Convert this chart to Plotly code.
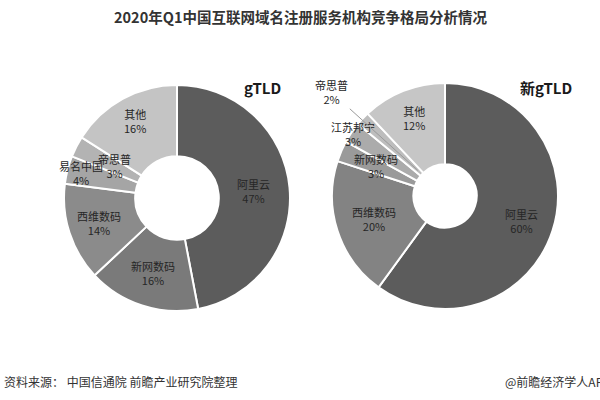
"""2020 Q1 domain registrar market share: gTLD vs new gTLD donuts."""

import math

import plotly.graph_objects as go

TITLE = "2020年Q1中国互联网域名注册服务机构竞争格局分析情况"
SOURCE = "资料来源： 中国信通院 前瞻产业研究院整理"
CREDIT = "@前瞻经济学人APP"

GTLD_NAMES = ["阿里云", "新网数码", "西维数码", "易名中国", "帝思普", "其他"]
GTLD_SHARE = [47, 16, 14, 4, 3, 16]

NEW_NAMES = ["阿里云", "西维数码", "新网数码", "江苏邦宁", "帝思普", "其他"]
NEW_SHARE = [60, 20, 3, 3, 2, 12]

W, H = 600, 400
FONT = "Noto Sans CJK SC, Noto Sans, sans-serif"
TEXT_COLOR = "#262626"

# pixel geometry of each donut: centre x, centre y, outer radius, hole ratio
LEFT = {"cx": 177, "cy": 198, "r": 113, "hole": 0.37}
RIGHT = {"cx": 445, "cy": 196, "r": 113, "hole": 0.28}

GTLD_COLORS = ["#5c5c5c", "#7a7a7a", "#8b8b8b", "#a5a5a5", "#b3b3b3", "#c4c4c4"]
NEW_COLORS = ["#5c5c5c", "#838383", "#9a9a9a", "#ababab", "#bdbdbd", "#c6c6c6"]

# radial distance of each label centre, as a fraction of the outer radius
GTLD_LABEL_R = [0.68, 0.70, 0.73, 0.88, 0.62, 0.78]
NEW_LABEL_R = [0.71, 0.66, 0.67, 0.98, 1.0, 0.74]


def px(x):
    return x / W


def py(y):
    return 1 - y / H


def domain(geo):
    return {
        "x": [px(geo["cx"] - geo["r"]), px(geo["cx"] + geo["r"])],
        "y": [py(geo["cy"] + geo["r"]), py(geo["cy"] - geo["r"])],
    }


def slice_point(geo, values, i, frac):
    """Paper coords of a point at the middle angle of slice i."""
    total = sum(values)
    mid = (sum(values[:i]) + values[i] / 2) / total * 2 * math.pi
    x = geo["cx"] + math.sin(mid) * frac * geo["r"]
    y = geo["cy"] - math.cos(mid) * frac * geo["r"]
    return px(x), py(y)


def donut(names, values, colors, geo):
    return go.Pie(
        labels=names,
        values=values,
        hole=geo["hole"],
        sort=False,
        direction="clockwise",
        rotation=0,
        textinfo="none",
        hoverinfo="label+percent",
        marker={"colors": colors, "line": {"color": "white", "width": 2}},
        domain=domain(geo),
        showlegend=False,
    )


def note(x, y, text, size, color=TEXT_COLOR, xanchor="center", **kw):
    return dict(
        x=x, y=y, xref="paper", yref="paper", text=text,
        xanchor=xanchor, yanchor="middle", showarrow=False,
        font={"size": size, "color": color, "family": FONT}, **kw,
    )


fig = go.Figure()
fig.add_trace(donut(GTLD_NAMES, GTLD_SHARE, GTLD_COLORS, LEFT))
fig.add_trace(donut(NEW_NAMES, NEW_SHARE, NEW_COLORS, RIGHT))

annotations = []
for names, values, radii, geo in [
    (GTLD_NAMES, GTLD_SHARE, GTLD_LABEL_R, LEFT),
    (NEW_NAMES, NEW_SHARE, NEW_LABEL_R, RIGHT),
]:
    for i, (name, val) in enumerate(zip(names, values)):
        text = f"{name}<br>{val}%"
        if geo is RIGHT and name == "帝思普":
            # label pulled out with a leader line
            x, y = slice_point(geo, values, i, 0.33)
            a = note(x, y, text, 11)
            a.update(showarrow=True, arrowhead=0, arrowwidth=1,
                     arrowcolor="#9a9a9a", ax=-86, ay=-78)
            annotations.append(a)
            continue
        x, y = slice_point(geo, values, i, radii[i])
        annotations.append(note(x, y, text, 11))

annotations += [
    note(px(300), py(17), f"<b>{TITLE}</b>", 14.5, color="#333333"),
    note(px(262), py(88), "<b>gTLD</b>", 15, color="#1a1a1a"),
    note(px(546), py(88), "<b>新gTLD</b>", 15, color="#1a1a1a"),
    note(px(2), py(381), SOURCE, 12, color="#333333", xanchor="left"),
    note(px(503), py(381), CREDIT, 12, color="#333333", xanchor="left"),
]

fig.update_layout(
    width=W,
    height=H,
    margin={"l": 0, "r": 0, "t": 0, "b": 0},
    paper_bgcolor="white",
    plot_bgcolor="white",
    annotations=annotations,
    font={"family": FONT},
)

# drop the default body margin so the 600x400 figure fills the window exactly
fig.write_html(
    "out.html",
    config={"displayModeBar": False},
    post_script="document.body.style.margin = '0';",
)
